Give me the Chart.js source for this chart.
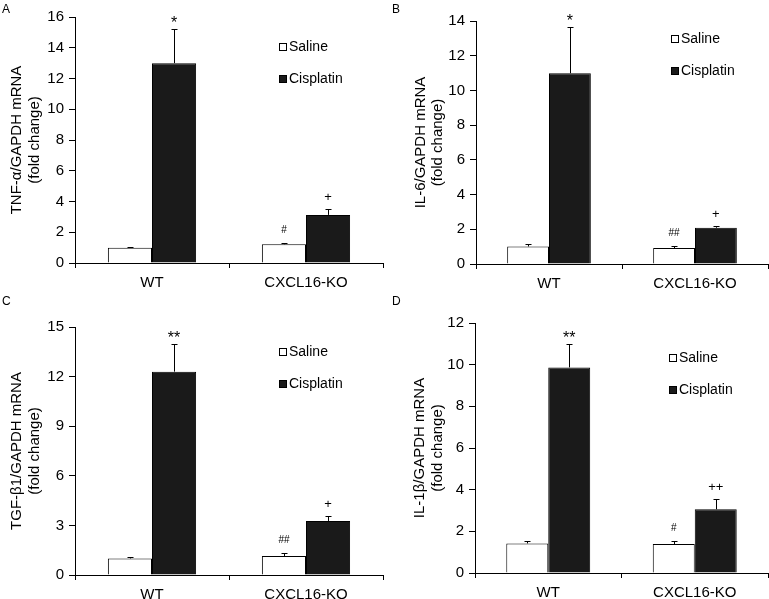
<!DOCTYPE html>
<html>
<head>
<meta charset="utf-8">
<script src="https://cdn.jsdelivr.net/npm/chart.js@4.4.1/dist/chart.umd.min.js"></script>
<style>
  body { margin: 0; background: #fff; }
  #wrap { position: relative; width: 769px; height: 599px; overflow: hidden; font-family: "Liberation Sans", Arial, sans-serif; }
  canvas { position: absolute; }
  .tag { position: absolute; font-size: 12px; color: #000; line-height: 1; }
</style>
</head>
<body>
<div id="wrap">
  <canvas id="cA" width="384" height="300" style="left:0;top:0"></canvas>
  <canvas id="cB" width="384" height="300" style="left:385px;top:0"></canvas>
  <canvas id="cC" width="384" height="299" style="left:0;top:300px"></canvas>
  <canvas id="cD" width="384" height="299" style="left:385px;top:300px"></canvas>
  <div class="tag" style="left:2px;top:3px">A</div>
  <div class="tag" style="left:392px;top:3px">B</div>
  <div class="tag" style="left:2px;top:295px">C</div>
  <div class="tag" style="left:392px;top:295px">D</div>
</div>
<script>
// --- Data ---
const groups = ['WT', 'CXCL16-KO'];
const seriesNames = ['Saline', 'Cisplatin'];

// A: TNF-alpha
const tnfSaline = [1.0, 1.22];
const tnfSalineErr = [0.07, 0.1];
const tnfCis = [13.0, 3.13];
const tnfCisErr = [2.25, 0.38];
const tnfSalineMarks = ['', '#'];
const tnfCisMarks = ['*', '+'];

// B: IL-6
const il6Saline = [1.01, 0.92];
const il6SalineErr = [0.13, 0.12];
const il6Cis = [10.99, 2.09];
const il6CisErr = [2.68, 0.08];
const il6SalineMarks = ['', '##'];
const il6CisMarks = ['*', '+'];

// C: TGF-beta1
const tgfSaline = [1.0, 1.15];
const tgfSalineErr = [0.08, 0.19];
const tgfCis = [12.3, 3.27];
const tgfCisErr = [1.67, 0.31];
const tgfSalineMarks = ['', '##'];
const tgfCisMarks = ['**', '+'];

// D: IL-1beta
const il1Saline = [1.42, 1.39];
const il1SalineErr = [0.11, 0.14];
const il1Cis = [9.87, 3.06];
const il1CisErr = [1.13, 0.48];
const il1SalineMarks = ['', '#'];
const il1CisMarks = ['**', '++'];

// --- Error bars, significance marks and the little legend ---
function markStyle(m) {
  if (m[0] === '*') return { font: '16px "Liberation Sans", Arial', gap: 2 };
  if (m[0] === '#') return { font: '10px "Liberation Sans", Arial', gap: 11 };
  return { font: '13px "Liberation Sans", Arial', gap: 9 };
}

const extras = {
  id: 'extras',
  afterDatasetsDraw(chart, args, opts) {
    const ctx = chart.ctx;
    const y = chart.scales.y;
    ctx.save();
    chart.data.datasets.forEach((ds, i) => {
      const meta = chart.getDatasetMeta(i);
      meta.data.forEach((bar, j) => {
        const x = Math.round(bar.x) + 0.5;
        const top = Math.round(y.getPixelForValue(ds.data[j] + ds.err[j])) + 0.5;
        ctx.strokeStyle = '#000';
        ctx.lineWidth = 1;
        ctx.beginPath();
        ctx.moveTo(x, bar.y);
        ctx.lineTo(x, top);
        ctx.moveTo(x - 3, top);
        ctx.lineTo(x + 3, top);
        ctx.stroke();
        const m = ds.marks[j];
        if (m) {
          const st = markStyle(m);
          ctx.font = st.font;
          ctx.fillStyle = '#000';
          ctx.textAlign = 'center';
          ctx.textBaseline = 'alphabetic';
          ctx.fillText(m, bar.x, top - st.gap);
        }
      });
    });

    // legend
    const lx = chart.chartArea.left + opts.legendX;
    const ly = chart.chartArea.top + opts.legendY;
    ctx.font = '14px "Liberation Sans", Arial';
    ctx.textAlign = 'left';
    ctx.textBaseline = 'middle';
    chart.data.datasets.forEach((ds, i) => {
      const cy = ly + i * 32;
      ctx.fillStyle = ds.backgroundColor;
      ctx.fillRect(lx, cy - 4, 8, 8);
      ctx.strokeStyle = '#000';
      ctx.strokeRect(lx + 0.5, cy - 3.5, 7, 7);
      ctx.fillStyle = '#000';
      ctx.fillText(ds.label, lx + 10, cy + 0.5);
    });
    ctx.restore();
  }
};

function makeChart(id, title, saline, salineErr, salineMarks, cis, cisErr, cisMarks, yMax, step, box) {
  const canvas = document.getElementById(id);
  return new Chart(canvas.getContext('2d'), {
    type: 'bar',
    data: {
      labels: groups,
      datasets: [
        {
          label: seriesNames[0], data: saline, err: salineErr, marks: salineMarks,
          backgroundColor: '#ffffff', borderColor: '#000', borderWidth: 1,
          categoryPercentage: 0.573, barPercentage: 1
        },
        {
          label: seriesNames[1], data: cis, err: cisErr, marks: cisMarks,
          backgroundColor: '#1a1a1a', borderColor: '#000', borderWidth: 1,
          categoryPercentage: 0.573, barPercentage: 1
        }
      ]
    },
    options: {
      responsive: false,
      animation: false,
      layout: { padding: { left: 0, top: box.top, right: canvas.width - box.right, bottom: 0 } },
      plugins: {
        legend: { display: false },
        tooltip: { enabled: false },
        extras: { legendX: box.legendX, legendY: box.legendY }
      },
      scales: {
        x: {
          afterFit: s => { s.height = canvas.height - box.bottom; },
          grid: { offset: true, drawOnChartArea: false, tickLength: 5, color: '#000' },
          border: { color: '#000', width: 1 },
          ticks: { color: '#000', padding: 6, font: { family: '"Liberation Sans", Arial', size: 15 } }
        },
        y: {
          min: 0, max: yMax,
          afterFit: s => { s.width = box.left; },
          grid: { drawOnChartArea: false, tickLength: 6, color: '#000' },
          border: { color: '#000', width: 1 },
          ticks: { stepSize: step, color: '#000', padding: 5, font: { family: '"Liberation Sans", Arial', size: 15 } },
          title: {
            display: true, text: title, color: '#000',
            padding: { top: box.titlePad, bottom: 0 },
            font: { family: '"Liberation Sans", Arial', size: 15, lineHeight: 1.17 }
          }
        }
      }
    },
    plugins: [extras]
  });
}

makeChart('cA', ['TNF-α/GAPDH mRNA', '(fold change)'],
  tnfSaline, tnfSalineErr, tnfSalineMarks, tnfCis, tnfCisErr, tnfCisMarks, 16, 2,
  { left: 75, right: 383, top: 17, bottom: 263, titlePad: 8.5, legendX: 204, legendY: 30 });

makeChart('cB', ['IL-6/GAPDH mRNA', '(fold change)'],
  il6Saline, il6SalineErr, il6SalineMarks, il6Cis, il6CisErr, il6CisMarks, 14, 2,
  { left: 91, right: 383, top: 21, bottom: 264, titlePad: 27, legendX: 195, legendY: 18 });

makeChart('cC', ['TGF-β1/GAPDH mRNA', '(fold change)'],
  tgfSaline, tgfSalineErr, tgfSalineMarks, tgfCis, tgfCisErr, tgfCisMarks, 15, 3,
  { left: 75, right: 383, top: 27, bottom: 275, titlePad: 8.5, legendX: 204, legendY: 25 });

makeChart('cD', ['IL-1β/GAPDH mRNA', '(fold change)'],
  il1Saline, il1SalineErr, il1SalineMarks, il1Cis, il1CisErr, il1CisMarks, 12, 2,
  { left: 90, right: 383, top: 23, bottom: 273, titlePad: 26.3, legendX: 194, legendY: 35 });
</script>
</body>
</html>
